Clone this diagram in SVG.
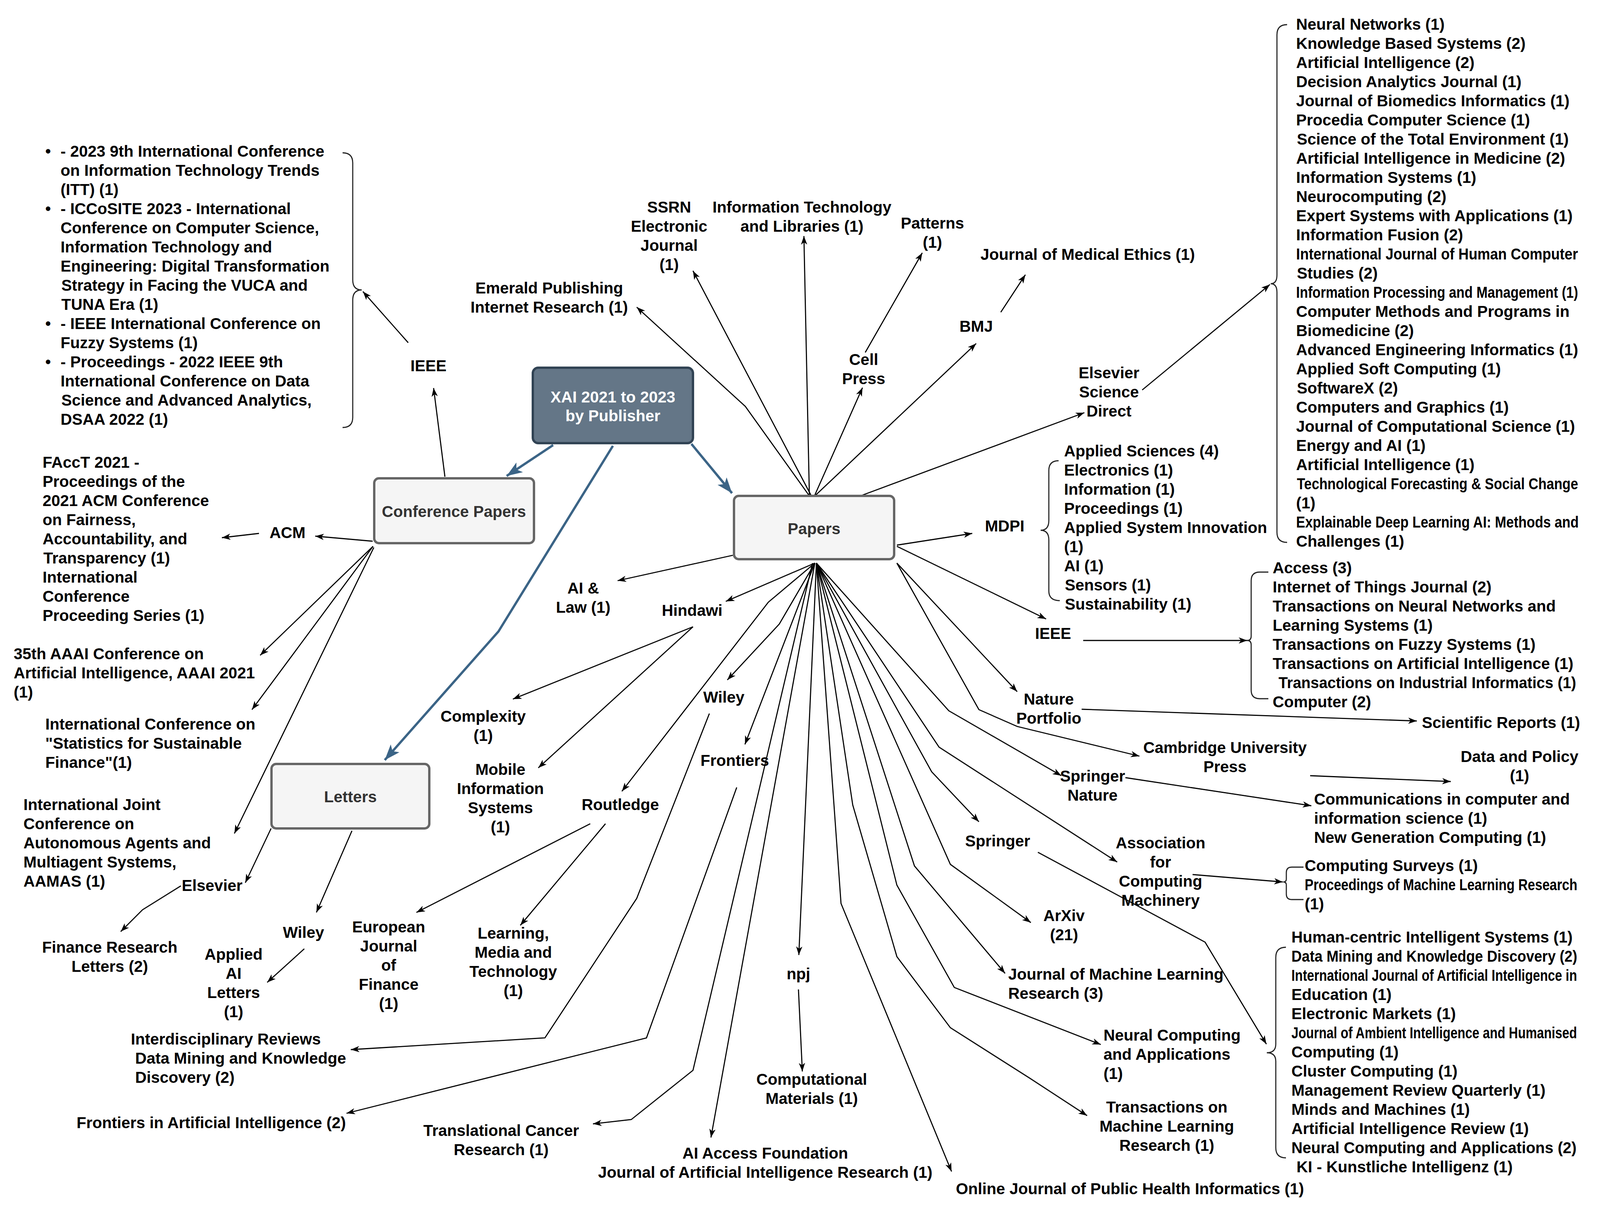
<svg xmlns="http://www.w3.org/2000/svg" width="4351" height="3099" viewBox="0 0 4351 3099">
<style>
.t{font-family:"Liberation Sans",Arial,sans-serif;font-weight:bold;font-size:40.5px;fill:#000}
.c{text-anchor:middle}
.w{fill:#fff}
.g{fill:#333}
.e{fill:none;stroke:#000;stroke-width:2.8;marker-end:url(#ah)}
.bl{fill:none;stroke:#3b6486;stroke-width:6;marker-end:url(#bh)}
.br{fill:none;stroke:#222;stroke-width:2.8}
.box{fill:#f5f5f5;stroke:#666;stroke-width:6}
</style>
<defs>
<marker id="ah" markerUnits="userSpaceOnUse" markerWidth="24" markerHeight="18" refX="22" refY="8" orient="auto"><path d="M0,0 L22,8 L0,16 L6,8 Z" fill="#000"/></marker>
<marker id="bh" markerUnits="userSpaceOnUse" markerWidth="44" markerHeight="34" refX="40" refY="15" orient="auto"><path d="M0,0 L40,15 L0,30 L10,15 Z" fill="#3b6486"/></marker>
</defs>
<rect width="4351" height="3099" fill="#fff"/>
<g id="connectors">
<path class="e" d="M1045,877 L929,746"/>
<path class="e" d="M1139,1220 L1110,993"/>
<path class="e" d="M954,1385 L807,1372"/>
<path class="e" d="M663,1365 L568,1376"/>
<path class="e" d="M955,1398 L666,1677"/>
<path class="e" d="M955,1398 L645,1816"/>
<path class="e" d="M957,1401 L600,2133"/>
<path class="e" d="M694,2120 L628,2259"/>
<path class="e" d="M463,2267 L365,2328 L309,2384"/>
<path class="e" d="M901,2126 L810,2335"/>
<path class="e" d="M779,2428 L684,2514"/>
<path class="bl" d="M1416,1139 L1297,1218"/>
<path class="bl" d="M1770,1136 L1874,1262"/>
<path class="bl" d="M1569,1141 L1276,1616 L985,1945"/>
<path class="e" d="M1876,1421 L1581,1486"/>
<path class="e" d="M2086,1441 L1858,1539"/>
<path class="e" d="M1774,1604 L1313,1789"/>
<path class="e" d="M1774,1604 L1378,1965"/>
<path class="e" d="M2086,1441 L1995,1597 L1862,1740"/>
<path class="e" d="M2086,1441 L1967,1541 L1592,2025"/>
<path class="e" d="M2086,1441 L1907,1905"/>
<path class="e" d="M1816,1826 L1630,2299 L1395,2656 L898,2686"/>
<path class="e" d="M1886,2015 L1655,2656 L887,2849"/>
<path class="e" d="M1511,2108 L1066,2335"/>
<path class="e" d="M1550,2108 L1332,2368"/>
<path class="e" d="M2080,1441 L1774,2739 L1616,2865 L1518,2876"/>
<path class="e" d="M2086,1441 L1820,2911"/>
<path class="e" d="M2090,1441 L2045,2444"/>
<path class="e" d="M2044,2532 L2054,2742"/>
<path class="e" d="M2090,1441 L2135,2060 L2153,2312 L2436,2998"/>
<path class="e" d="M2090,1441 L2183,2060 L2296,2448 L2433,2630 L2636,2759 L2783,2855"/>
<path class="e" d="M2090,1441 L2296,2265 L2443,2527 L2818,2673"/>
<path class="e" d="M2090,1441 L2341,2216 L2573,2491"/>
<path class="e" d="M2090,1441 L2433,2212 L2639,2361"/>
<path class="e" d="M2090,1441 L2404,1912 L2860,2206"/>
<path class="e" d="M2090,1441 L2385,1975 L2506,2103"/>
<path class="e" d="M2090,1441 L2429,1819 L2717,1985"/>
<path class="e" d="M2296,1441 L2506,1816 L2604,1859 L2917,1935"/>
<path class="e" d="M2296,1441 L2604,1770"/>
<path class="e" d="M2296,1398 L2678,1584"/>
<path class="e" d="M2296,1395 L2489,1365"/>
<path class="e" d="M2208,1267 L2776,1056"/>
<path class="e" d="M2924,998 L3251,728"/>
<path class="e" d="M2773,1639 L3193,1639"/>
<path class="e" d="M2769,1815 L3627,1845"/>
<path class="e" d="M3354,1985 L3714,2000"/>
<path class="e" d="M2881,1990 L3357,2062"/>
<path class="e" d="M3053,2238 L3284,2257"/>
<path class="e" d="M2657,2181 L3085,2411 L3242,2672"/>
<path class="e" d="M2072,1269 L1908,1040 L1630,786"/>
<path class="e" d="M2077,1269 L1774,693"/>
<path class="e" d="M2072,1269 L2058,604"/>
<path class="e" d="M2085,1269 L2208,992"/>
<path class="e" d="M2215,902 L2361,647"/>
<path class="e" d="M2086,1269 L2499,879"/>
<path class="e" d="M2562,799 L2625,703"/>
</g>
<g id="n-xai">
<rect x="1364" y="941" width="410" height="193" rx="14" fill="#647687" stroke="#314354" stroke-width="6"/>
<text class="t c w" x="1569" y="1030">XAI 2021 to 2023</text>
<text class="t c w" x="1569" y="1078">by Publisher</text>
</g>
<g id="n-conf">
<rect class="box" x="958" y="1224" width="409" height="166" rx="12"/>
<text class="t c g" x="1162" y="1323">Conference Papers</text>
</g>
<g id="n-papers">
<rect class="box" x="1879" y="1269" width="410" height="162" rx="12"/>
<text class="t c g" x="2084" y="1367">Papers</text>
</g>
<g id="n-letters">
<rect class="box" x="695" y="1955" width="404" height="165" rx="12"/>
<text class="t c g" x="897" y="2053">Letters</text>
</g>
<g id="n-ieee-conf-list">
<path class="br" d="M877,391 Q903,391 903,417 L903,716 Q903,742 926,742 Q903,742 903,768 L903,1068 Q903,1094 877,1094"/>
<text class="t" x="116" y="401">•</text>
<text class="t" x="116" y="548">•</text>
<text class="t" x="116" y="842">•</text>
<text class="t" x="116" y="940">•</text>
<text class="t" x="155" y="401">- 2023 9th International Conference</text>
<text class="t" x="155" y="450">on Information Technology Trends</text>
<text class="t" x="155" y="499">(ITT) (1)</text>
<text class="t" x="155" y="548">- ICCoSITE 2023 - International</text>
<text class="t" x="155" y="597">Conference on Computer Science,</text>
<text class="t" x="155" y="646">Information Technology and</text>
<text class="t" x="155" y="695">Engineering: Digital Transformation</text>
<text class="t" x="157" y="744">Strategy in Facing the VUCA and</text>
<text class="t" x="157" y="793">TUNA Era (1)</text>
<text class="t" x="155" y="842">- IEEE International Conference on</text>
<text class="t" x="155" y="891">Fuzzy Systems (1)</text>
<text class="t" x="155" y="940">- Proceedings - 2022 IEEE 9th</text>
<text class="t" x="155" y="989">International Conference on Data</text>
<text class="t" x="157" y="1038">Science and Advanced Analytics,</text>
<text class="t" x="155" y="1087">DSAA 2022 (1)</text>
</g>
<g id="n-ieee-conf"><text class="t c" x="1097" y="950">IEEE</text></g>
<g id="n-acm"><text class="t c" x="736" y="1377">ACM</text></g>
<g id="n-facct">
<text class="t" x="109" y="1197">FAccT 2021 -</text>
<text class="t" x="109" y="1246">Proceedings of the</text>
<text class="t" x="109" y="1295">2021 ACM Conference</text>
<text class="t" x="109" y="1344">on Fairness,</text>
<text class="t" x="109" y="1393">Accountability, and</text>
<text class="t" x="111" y="1442">Transparency (1)</text>
<text class="t" x="109" y="1491">International</text>
<text class="t" x="109" y="1540">Conference</text>
<text class="t" x="109" y="1589">Proceeding Series (1)</text>
</g>
<g id="n-aaai">
<text class="t" x="35" y="1687">35th AAAI Conference on</text>
<text class="t" x="35" y="1736">Artificial Intelligence, AAAI 2021</text>
<text class="t" x="35" y="1785">(1)</text>
</g>
<g id="n-stat">
<text class="t" x="116" y="1867">International Conference on</text>
<text class="t" x="116" y="1916">"Statistics for Sustainable</text>
<text class="t" x="116" y="1965">Finance"(1)</text>
</g>
<g id="n-aamas">
<text class="t" x="60" y="2073">International Joint</text>
<text class="t" x="60" y="2122">Conference on</text>
<text class="t" x="60" y="2171">Autonomous Agents and</text>
<text class="t" x="60" y="2220">Multiagent Systems,</text>
<text class="t" x="60" y="2269">AAMAS (1)</text>
</g>
<g id="n-elsevier-l"><text class="t c" x="543" y="2280">Elsevier</text></g>
<g id="n-frl">
<text class="t c" x="281" y="2438">Finance Research</text>
<text class="t c" x="281" y="2487">Letters (2)</text>
</g>
<g id="n-wiley-l"><text class="t c" x="777" y="2400">Wiley</text></g>
<g id="n-aail">
<text class="t c" x="598" y="2456">Applied</text>
<text class="t c" x="598" y="2505">AI</text>
<text class="t c" x="598" y="2554">Letters</text>
<text class="t c" x="598" y="2603">(1)</text>
</g>
<g id="n-wires">
<text class="t" x="335" y="2673">Interdisciplinary Reviews</text>
<text class="t" x="346" y="2722">Data Mining and Knowledge</text>
<text class="t" x="346" y="2771">Discovery (2)</text>
</g>
<g id="n-frontai"><text class="t" x="196" y="2887">Frontiers in Artificial Intelligence (2)</text></g>
<g id="n-ailaw">
<text class="t c" x="1493" y="1519">AI &amp;</text>
<text class="t c" x="1493" y="1568">Law (1)</text>
</g>
<g id="n-hindawi"><text class="t c" x="1772" y="1576">Hindawi</text></g>
<g id="n-complexity">
<text class="t c" x="1237" y="1847">Complexity</text>
<text class="t c" x="1237" y="1896">(1)</text>
</g>
<g id="n-mobile">
<text class="t c" x="1281" y="1983">Mobile</text>
<text class="t c" x="1281" y="2032">Information</text>
<text class="t c" x="1281" y="2081">Systems</text>
<text class="t c" x="1281" y="2130">(1)</text>
</g>
<g id="n-wiley-p"><text class="t c" x="1853" y="1798">Wiley</text></g>
<g id="n-frontiers"><text class="t c" x="1881" y="1960">Frontiers</text></g>
<g id="n-routledge"><text class="t c" x="1588" y="2073">Routledge</text></g>
<g id="n-ejf">
<text class="t c" x="995" y="2386">European</text>
<text class="t c" x="995" y="2435">Journal</text>
<text class="t c" x="995" y="2484">of</text>
<text class="t c" x="995" y="2533">Finance</text>
<text class="t c" x="995" y="2582">(1)</text>
</g>
<g id="n-lmt">
<text class="t c" x="1314" y="2402">Learning,</text>
<text class="t c" x="1314" y="2451">Media and</text>
<text class="t c" x="1314" y="2500">Technology</text>
<text class="t c" x="1314" y="2549">(1)</text>
</g>
<g id="n-tcr">
<text class="t c" x="1283" y="2907">Translational Cancer</text>
<text class="t c" x="1283" y="2956">Research (1)</text>
</g>
<g id="n-aiaf">
<text class="t c" x="1959" y="2965">AI Access Foundation</text>
<text class="t c" x="1959" y="3014">Journal of Artificial Intelligence Research (1)</text>
</g>
<g id="n-npj"><text class="t c" x="2044" y="2506">npj</text></g>
<g id="n-compmat">
<text class="t c" x="2078" y="2776">Computational</text>
<text class="t c" x="2078" y="2825">Materials (1)</text>
</g>
<g id="n-ojphi"><text class="t" x="2447" y="3056">Online Journal of Public Health Informatics (1)</text></g>
<g id="n-springer"><text class="t c" x="2554" y="2166">Springer</text></g>
<g id="n-arxiv">
<text class="t c" x="2724" y="2357">ArXiv</text>
<text class="t c" x="2724" y="2406">(21)</text>
</g>
<g id="n-jmlr">
<text class="t" x="2581" y="2507">Journal of Machine Learning</text>
<text class="t" x="2581" y="2556">Research (3)</text>
</g>
<g id="n-nca">
<text class="t" x="2825" y="2663">Neural Computing</text>
<text class="t" x="2825" y="2712">and Applications</text>
<text class="t" x="2825" y="2761">(1)</text>
</g>
<g id="n-tmlr">
<text class="t c" x="2987" y="2847">Transactions on</text>
<text class="t c" x="2987" y="2896">Machine Learning</text>
<text class="t c" x="2987" y="2945">Research (1)</text>
</g>
<g id="n-acm-p">
<text class="t c" x="2971" y="2171">Association</text>
<text class="t c" x="2971" y="2220">for</text>
<text class="t c" x="2971" y="2269">Computing</text>
<text class="t c" x="2971" y="2318">Machinery</text>
</g>
<g id="n-springernature">
<text class="t c" x="2797" y="2000">Springer</text>
<text class="t c" x="2797" y="2049">Nature</text>
</g>
<g id="n-cambridge">
<text class="t c" x="3136" y="1927">Cambridge University</text>
<text class="t c" x="3136" y="1976">Press</text>
</g>
<g id="n-nature">
<text class="t c" x="2685" y="1803">Nature</text>
<text class="t c" x="2685" y="1852">Portfolio</text>
</g>
<g id="n-ieee-p"><text class="t c" x="2696" y="1635">IEEE</text></g>
<g id="n-mdpi"><text class="t c" x="2572" y="1360">MDPI</text></g>
<g id="n-elsevier-sd">
<text class="t c" x="2839" y="968">Elsevier</text>
<text class="t c" x="2839" y="1017">Science</text>
<text class="t c" x="2839" y="1066">Direct</text>
</g>
<g id="n-mdpi-list">
<path class="br" d="M2710,1179 Q2685,1179 2685,1204 L2685,1332 Q2685,1357 2664,1357 Q2685,1357 2685,1382 L2685,1512 Q2685,1537 2713,1537"/>
<text class="t" x="2724" y="1168">Applied Sciences (4)</text>
<text class="t" x="2724" y="1217">Electronics (1)</text>
<text class="t" x="2724" y="1266">Information (1)</text>
<text class="t" x="2724" y="1315">Proceedings (1)</text>
<text class="t" x="2724" y="1364">Applied System Innovation</text>
<text class="t" x="2724" y="1413">(1)</text>
<text class="t" x="2724" y="1462">AI (1)</text>
<text class="t" x="2726" y="1511">Sensors (1)</text>
<text class="t" x="2726" y="1560">Sustainability (1)</text>
</g>
<g id="n-ieee-list">
<path class="br" d="M3247,1464 L3225,1464 Q3203,1464 3203,1486 L3203,1628 Q3203,1639 3193,1639 Q3203,1639 3203,1650 L3203,1766 Q3203,1788 3225,1788 L3247,1788"/>
<text class="t" x="3258" y="1467">Access (3)</text>
<text class="t" x="3258" y="1516">Internet of Things Journal (2)</text>
<text class="t" x="3258" y="1565">Transactions on Neural Networks and</text>
<text class="t" x="3258" y="1614">Learning Systems (1)</text>
<text class="t" x="3258" y="1663">Transactions on Fuzzy Systems (1)</text>
<text class="t" x="3258" y="1712" textLength="770" lengthAdjust="spacingAndGlyphs">Transactions on Artificial Intelligence (1)</text>
<text class="t" x="3273" y="1761" textLength="762" lengthAdjust="spacingAndGlyphs">Transactions on Industrial Informatics (1)</text>
<text class="t" x="3258" y="1810">Computer (2)</text>
</g>
<g id="n-scirep"><text class="t" x="3640" y="1863">Scientific Reports (1)</text></g>
<g id="n-datapolicy">
<text class="t c" x="3890" y="1950">Data and Policy</text>
<text class="t c" x="3890" y="1999">(1)</text>
</g>
<g id="n-comm">
<text class="t" x="3364" y="2059">Communications in computer and</text>
<text class="t" x="3364" y="2108">information science (1)</text>
<text class="t" x="3364" y="2157">New Generation Computing (1)</text>
</g>
<g id="n-acm-list">
<path class="br" d="M3337,2219 L3307,2219 Q3293,2219 3293,2233 L3293,2250 Q3293,2257 3285,2257 Q3293,2257 3293,2264 L3293,2288 Q3293,2302 3307,2302 L3337,2302"/>
<text class="t" x="3340" y="2229">Computing Surveys (1)</text>
<text class="t" transform="translate(3340,2278) scale(1,1.205)" style="font-size:33.6px" x="0" y="0">Proceedings of Machine Learning Research</text>
<text class="t" x="3340" y="2327">(1)</text>
</g>
<g id="n-springer-list">
<path class="br" d="M3292,2424 Q3266,2424 3266,2450 L3266,2672 Q3266,2694 3243,2694 Q3266,2694 3266,2716 L3266,2937 Q3266,2963 3292,2963"/>
<text class="t" x="3306" y="2412" textLength="720" lengthAdjust="spacingAndGlyphs">Human-centric Intelligent Systems (1)</text>
<text class="t" transform="translate(3306,2461) scale(1,1.1)" style="font-size:36.8px" x="0" y="0">Data Mining and Knowledge Discovery (2)</text>
<text class="t" transform="translate(3306,2510) scale(1,1.235)" style="font-size:32.8px" x="0" y="0">International Journal of Artificial Intelligence in</text>
<text class="t" x="3306" y="2559">Education (1)</text>
<text class="t" x="3306" y="2608">Electronic Markets (1)</text>
<text class="t" transform="translate(3306,2657) scale(1,1.25)" style="font-size:32.4px" x="0" y="0">Journal of Ambient Intelligence and Humanised</text>
<text class="t" x="3306" y="2706">Computing (1)</text>
<text class="t" x="3306" y="2755">Cluster Computing (1)</text>
<text class="t" x="3306" y="2804">Management Review Quarterly (1)</text>
<text class="t" x="3306" y="2853">Minds and Machines (1)</text>
<text class="t" x="3306" y="2902">Artificial Intelligence Review (1)</text>
<text class="t" x="3306" y="2951" textLength="730" lengthAdjust="spacingAndGlyphs">Neural Computing and Applications (2)</text>
<text class="t" x="3319" y="3000">KI - Kunstliche Intelligenz (1)</text>
</g>
<g id="n-elsevier-list">
<path class="br" d="M3295,63 Q3269,63 3269,89 L3269,704 Q3269,726 3253,726 Q3269,726 3269,748 L3269,1362 Q3269,1388 3295,1388"/>
<text class="t" x="3318" y="76">Neural Networks (1)</text>
<text class="t" x="3318" y="125">Knowledge Based Systems (2)</text>
<text class="t" x="3318" y="174">Artificial Intelligence (2)</text>
<text class="t" x="3318" y="223">Decision Analytics Journal (1)</text>
<text class="t" x="3318" y="272" textLength="700" lengthAdjust="spacingAndGlyphs">Journal of Biomedics Informatics (1)</text>
<text class="t" x="3318" y="321">Procedia Computer Science (1)</text>
<text class="t" x="3320" y="370" textLength="696" lengthAdjust="spacingAndGlyphs">Science of the Total Environment (1)</text>
<text class="t" x="3318" y="419">Artificial Intelligence in Medicine (2)</text>
<text class="t" x="3318" y="468">Information Systems (1)</text>
<text class="t" x="3318" y="517">Neurocomputing (2)</text>
<text class="t" x="3318" y="566" textLength="708" lengthAdjust="spacingAndGlyphs">Expert Systems with Applications (1)</text>
<text class="t" x="3318" y="615">Information Fusion (2)</text>
<text class="t" transform="translate(3318,664) scale(1,1.11)" style="font-size:36.5px" x="0" y="0">International Journal of Human Computer</text>
<text class="t" x="3320" y="713">Studies (2)</text>
<text class="t" transform="translate(3318,762) scale(1,1.184)" style="font-size:34.2px" x="0" y="0">Information Processing and Management (1)</text>
<text class="t" x="3318" y="811" textLength="700" lengthAdjust="spacingAndGlyphs">Computer Methods and Programs in</text>
<text class="t" x="3318" y="860">Biomedicine (2)</text>
<text class="t" x="3318" y="909" textLength="722" lengthAdjust="spacingAndGlyphs">Advanced Engineering Informatics (1)</text>
<text class="t" x="3318" y="958">Applied Soft Computing (1)</text>
<text class="t" x="3320" y="1007">SoftwareX (2)</text>
<text class="t" x="3318" y="1056">Computers and Graphics (1)</text>
<text class="t" x="3318" y="1105" textLength="714" lengthAdjust="spacingAndGlyphs">Journal of Computational Science (1)</text>
<text class="t" x="3318" y="1154">Energy and AI (1)</text>
<text class="t" x="3318" y="1203">Artificial Intelligence (1)</text>
<text class="t" transform="translate(3320,1252) scale(1,1.167)" style="font-size:34.7px" x="0" y="0">Technological Forecasting &amp; Social Change</text>
<text class="t" x="3318" y="1301">(1)</text>
<text class="t" transform="translate(3318,1350) scale(1,1.164)" style="font-size:34.8px" x="0" y="0">Explainable Deep Learning AI: Methods and</text>
<text class="t" x="3318" y="1399">Challenges (1)</text>
</g>
<g id="n-jme"><text class="t" x="2510" y="665">Journal of Medical Ethics (1)</text></g>
<g id="n-bmj"><text class="t c" x="2499" y="849">BMJ</text></g>
<g id="n-patterns">
<text class="t c" x="2387" y="585">Patterns</text>
<text class="t c" x="2387" y="634">(1)</text>
</g>
<g id="n-cell">
<text class="t c" x="2211" y="934">Cell</text>
<text class="t c" x="2211" y="983">Press</text>
</g>
<g id="n-itl">
<text class="t c" x="2053" y="544">Information Technology</text>
<text class="t c" x="2053" y="593">and Libraries (1)</text>
</g>
<g id="n-ssrn">
<text class="t c" x="1713" y="544">SSRN</text>
<text class="t c" x="1713" y="593">Electronic</text>
<text class="t c" x="1713" y="642">Journal</text>
<text class="t c" x="1713" y="691">(1)</text>
</g>
<g id="n-emerald">
<text class="t c" x="1406" y="751">Emerald Publishing</text>
<text class="t c" x="1406" y="800">Internet Research (1)</text>
</g>
</svg>
